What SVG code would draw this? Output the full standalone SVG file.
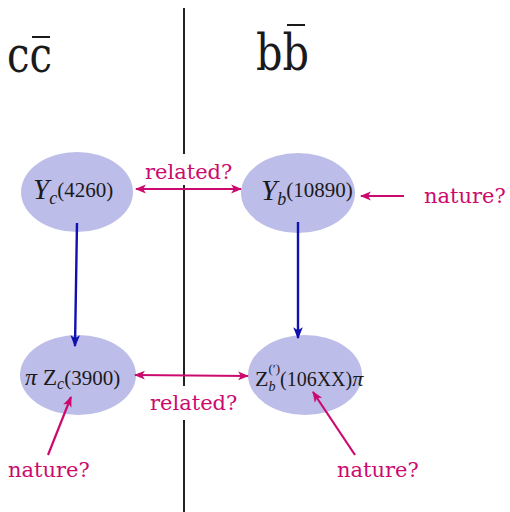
<svg xmlns="http://www.w3.org/2000/svg" width="510" height="512" viewBox="0 0 510 512">
<style>
.node{fill:#bdbde9}
.math{font-family:"Liberation Serif",serif;fill:#1a1a1a}
.it{font-style:italic}
.lbl{font-family:"DejaVu Serif",serif;font-size:21px;fill:#cc0a6e}
.mag{stroke:#cc0a6e;stroke-width:2.2;fill:none}
.blu{stroke:#1010b0;stroke-width:2.4;fill:none}
.divider{stroke:#222;stroke-width:2}
.big{font-family:"DejaVu Serif",serif;font-size:50px;fill:#1a1a1a}
</style>
<defs>
<marker id="mh" viewBox="0 0 10 10" refX="9" refY="5" markerWidth="5" markerHeight="5" orient="auto-start-reverse" markerUnits="strokeWidth">
<path d="M0,1 L10,5 L0,9 L2.5,5 Z" fill="#cc0a6e"/>
</marker>
<marker id="bh" viewBox="0 0 10 10" refX="9" refY="5" markerWidth="5" markerHeight="5" orient="auto" markerUnits="strokeWidth">
<path d="M0,1 L10,5 L0,9 L2.5,5 Z" fill="#1010b0"/>
</marker>
</defs>
<rect width="510" height="512" fill="#fff"/>
<g id="divider">
<line class="divider" x1="184" y1="8" x2="184" y2="154"/>
<line class="divider" x1="184" y1="185" x2="184" y2="386"/>
<line class="divider" x1="184" y1="420" x2="184" y2="512"/>
</g>
<g id="headers">
<text class="big" x="7" y="72" textLength="45" lengthAdjust="spacingAndGlyphs">cc</text>
<line x1="32" y1="37" x2="50" y2="37" stroke="#1a1a1a" stroke-width="2"/>
<text class="big" x="256" y="70" textLength="53" lengthAdjust="spacingAndGlyphs">bb</text>
<line x1="287" y1="25" x2="305" y2="25" stroke="#1a1a1a" stroke-width="2"/>
</g>
<g id="node-yc">
<ellipse class="node" cx="77" cy="192" rx="56" ry="40"/>
<text class="math" x="33" y="199"><tspan class="it" font-size="29">Υ</tspan><tspan class="it" font-size="18" dy="5">c</tspan><tspan font-size="21" dy="-7">(4260)</tspan></text>
</g>
<g id="node-yb">
<ellipse class="node" cx="298" cy="193" rx="57" ry="40"/>
<text class="math" x="261" y="200"><tspan class="it" font-size="29">Υ</tspan><tspan class="it" font-size="18" dy="5">b</tspan><tspan font-size="21" dy="-8">(10890)</tspan></text>
</g>
<g id="node-zc">
<ellipse class="node" cx="78" cy="375" rx="58" ry="40"/>
<text class="math" x="25" y="385"><tspan class="it" font-size="24">π</tspan><tspan font-size="23" dx="6">Z</tspan><tspan class="it" font-size="16" dy="4">c</tspan><tspan font-size="21" dy="-4">(3900)</tspan></text>
</g>
<g id="node-zb">
<ellipse class="node" cx="305" cy="375" rx="57" ry="40"/>
<text class="math" x="255" y="386"><tspan font-size="22">Z</tspan><tspan class="it" font-size="14" dy="5">b</tspan><tspan font-size="13" dx="-7" dy="-18">(′)</tspan><tspan font-size="20" dy="13">(106XX)</tspan><tspan class="it" font-size="22">π</tspan></text>
</g>
<g id="connectors">
<line class="blu" x1="77" y1="223" x2="75" y2="346" marker-end="url(#bh)"/>
<line class="blu" x1="298" y1="222" x2="298" y2="338" marker-end="url(#bh)"/>
<line class="mag" x1="136" y1="189" x2="241" y2="189" marker-start="url(#mh)" marker-end="url(#mh)"/>
<line class="mag" x1="135" y1="375" x2="248" y2="376" marker-start="url(#mh)" marker-end="url(#mh)"/>
<line class="mag" x1="404" y1="196" x2="361" y2="196" marker-end="url(#mh)"/>
<line class="mag" x1="48" y1="455" x2="71" y2="397" marker-end="url(#mh)"/>
<line class="mag" x1="355" y1="455" x2="313" y2="392" marker-end="url(#mh)"/>
</g>
<g id="labels">
<text class="lbl" x="145" y="179">related?</text>
<text class="lbl" x="150" y="410">related?</text>
<text class="lbl" x="424" y="203">nature?</text>
<text class="lbl" x="8" y="477">nature?</text>
<text class="lbl" x="337" y="477">nature?</text>
</g>
</svg>
